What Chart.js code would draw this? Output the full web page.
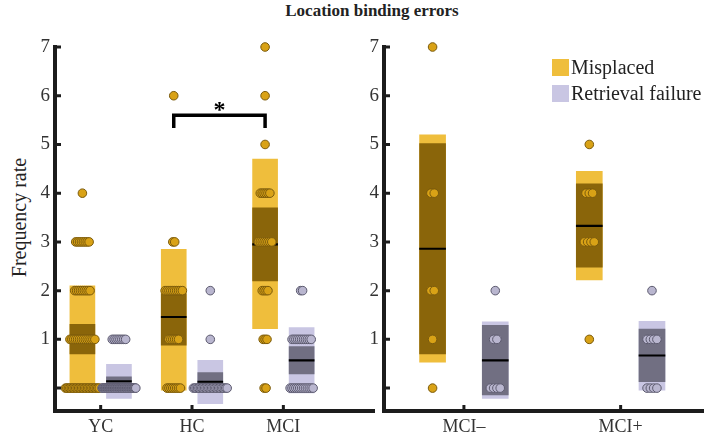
<!DOCTYPE html>
<html>
<head>
<meta charset="utf-8">
<script src="https://cdn.jsdelivr.net/npm/chart.js@4"></script>
<style>
  body { margin: 0; background: #fff; }
  #wrap { position: relative; width: 709px; height: 435px; font-family: 'Liberation Serif', 'Times New Roman', serif; color: #222; }
  #title { position: absolute; left: 0; width: 744px; top: 1px; text-align: center; font-weight: bold; font-size: 17px; }
  #ylabel { position: absolute; left: -61px; top: 206px; width: 160px; text-align: center; font-size: 20px; transform: rotate(-90deg); }
  canvas { position: absolute; top: 0; }
  #left { left: 0; }
  #right { left: 355px; }
  .legend { position: absolute; left: 552px; font-size: 20px; line-height: 17px; white-space: nowrap; }
  .legend span { display: inline-block; width: 17px; height: 17px; vertical-align: top; margin-right: 2px; }
</style>
</head>
<body>
<div id="wrap">
  <div id="title">Location binding errors</div>
  <div id="ylabel">Frequency rate</div>
  <canvas id="left" width="380" height="435"></canvas>
  <canvas id="right" width="354" height="435"></canvas>
  <div class="legend" style="top:59px"><span style="background:#efbe3c"></span>Misplaced</div>
  <div class="legend" style="top:85px"><span style="background:#c9c6e3"></span>Retrieval failure</div>
</div>
<script>
// --- Data ---
const leftCategories = ['YC', 'HC', 'MCI'];
const rightCategories = ['MCI\u2013', 'MCI+'];
const yTickValues = [0, 1, 2, 3, 4, 5, 6, 7];
const yTickLabels = ['', '1', '2', '3', '4', '5', '6', '7'];

// outer band, inner band, mean (per group)
const misplacedOuterL = [[-0.04, 2.1], [-0.04, 2.85], [1.22, 4.7]];
const misplacedInnerL = [[0.7, 1.31], [0.88, 1.94], [2.2, 3.7]];
const misplacedMeanL = [1.0, 1.46, 2.95];
const retrievalOuterL = [[-0.21, 0.49], [-0.32, 0.57], [-0.1, 1.24]];
const retrievalInnerL = [[0.05, 0.23], [-0.06, 0.32], [0.29, 0.85]];
const retrievalMeanL = [0.14, 0.13, 0.57];

const misplacedOuterR = [[0.53, 5.2], [2.22, 4.45]];
const misplacedInnerR = [[0.7, 5.02], [2.48, 4.19]];
const misplacedMeanR = [2.86, 3.33];
const retrievalOuterR = [[-0.21, 1.36], [-0.04, 1.37]];
const retrievalInnerR = [[-0.14, 1.29], [0.13, 1.21]];
const retrievalMeanR = [0.57, 0.67];

// number of participants at each score 0..7
const misplacedCountsL = [[24, 14, 9, 8, 1, 0, 0, 0], [8, 6, 10, 2, 0, 0, 1, 0], [2, 3, 4, 8, 6, 1, 1, 1]];
const retrievalCountsL = [[49, 8, 0, 0, 0, 0, 0, 0], [25, 1, 1, 0, 0, 0, 0, 0], [13, 11, 2, 0, 0, 0, 0, 0]];
const misplacedCountsR = [[1, 1, 2, 0, 2, 0, 0, 1], [0, 1, 0, 4, 3, 1, 0, 0]];
const retrievalCountsR = [[4, 2, 1, 0, 0, 0, 0, 0], [4, 4, 1, 0, 0, 0, 0, 0]];

// significance bracket HC vs MCI (misplaced)
const bracketX = [1.8, 2.8];
const bracketY = [5.34, 5.6];

// --- Styles ---
const font = "'Liberation Serif', 'Times New Roman', serif";
const axisColor = '#1c1c1c';
const gold = { outer: '#efbe3c', inner: '#8a650a', dot: '#d9a216', dotBorder: '#7a5a0c' };
const lav = { outer: '#c9c6e3', inner: '#716f82', dot: '#b9b6cf', dotBorder: '#5c5a6e' };
const OFFSET = 0.2;
const STEP = 0.021;
const CAP = 0.37;

function bars(values, shift) {
    return values.map((v, i) => ({ x: i + 1 + shift, y: v }));
}
function meanBars(values, shift) {
    return values.map((m, i) => ({ x: i + 1 + shift, y: [m - 0.015, m + 0.015] }));
}
function dots(counts, shift) {
    const pts = [];
    counts.forEach((row, g) => {
        const center = g + 1 + shift;
        row.forEach((n, v) => {
            if (!n) return;
            const spread = Math.min((n - 1) * STEP, CAP);
            for (let i = 0; i < n; i++) {
                const x = n > 1 ? center - spread / 2 + i * spread / (n - 1) : center;
                pts.push({ x: x, y: v });
            }
        });
    });
    return pts;
}

function makeChart(id, cfg) {
    const barSet = (data, color, order) => ({
        type: 'bar', data: data, backgroundColor: color, borderWidth: 0,
        barThickness: cfg.barWidth, grouped: false, order: order
    });
    const dotSet = (data, c, order) => ({
        type: 'scatter', data: data, backgroundColor: c.dot, borderColor: c.dotBorder,
        borderWidth: 1, pointRadius: 4.3, clip: false, order: order
    });
    const datasets = [
        dotSet(dots(cfg.retCounts, OFFSET), lav, 0),
        dotSet(dots(cfg.misCounts, -OFFSET), gold, 1),
        barSet(meanBars(cfg.retMean, OFFSET), '#000', 2),
        barSet(meanBars(cfg.misMean, -OFFSET), '#000', 2),
        barSet(bars(cfg.retInner, OFFSET), lav.inner, 3),
        barSet(bars(cfg.misInner, -OFFSET), gold.inner, 3),
        barSet(bars(cfg.retOuter, OFFSET), lav.outer, 4),
        barSet(bars(cfg.misOuter, -OFFSET), gold.outer, 4)
    ];
    if (cfg.bracket) {
        datasets.push({
            type: 'line',
            data: [
                { x: bracketX[0], y: bracketY[0] }, { x: bracketX[0], y: bracketY[1] },
                { x: bracketX[1], y: bracketY[1] }, { x: bracketX[1], y: bracketY[0] }
            ],
            borderColor: '#000', borderWidth: 3.5, pointRadius: 0, fill: false, order: 0
        });
    }

    // inward tick marks and the significance star
    const innerTicks = {
        id: 'innerTicks',
        afterDraw(chart) {
            const { ctx, chartArea } = chart;
            const x = chart.scales.x, y = chart.scales.y;
            ctx.save();
            ctx.strokeStyle = axisColor;
            ctx.lineWidth = 3;
            ctx.beginPath();
            yTickValues.forEach(v => {
                const py = y.getPixelForValue(v);
                ctx.moveTo(chartArea.left, py);
                ctx.lineTo(chartArea.left + 6, py);
            });
            cfg.categories.forEach((c, i) => {
                const px = x.getPixelForValue(i + 1);
                ctx.moveTo(px, chartArea.bottom);
                ctx.lineTo(px, chartArea.bottom - 6);
            });
            ctx.stroke();
            if (cfg.bracket) {
                ctx.fillStyle = '#000';
                ctx.font = 'bold 24px ' + font;
                ctx.textAlign = 'center';
                ctx.textBaseline = 'middle';
                ctx.fillText('*', x.getPixelForValue((bracketX[0] + bracketX[1]) / 2), y.getPixelForValue(bracketY[1]) - 4);
            }
            ctx.restore();
        }
    };

    return new Chart(document.getElementById(id), {
        type: 'bar',
        data: { datasets: datasets },
        plugins: [innerTicks],
        options: {
            responsive: false,
            animation: false,
            layout: { padding: cfg.padding },
            plugins: { legend: { display: false }, tooltip: { enabled: false } },
            scales: {
                x: {
                    type: 'linear', min: cfg.xMin, max: cfg.xMax, offset: false,
                    grid: { display: false, drawTicks: false },
                    border: { display: true, color: axisColor, width: 4 },
                    afterBuildTicks: s => { s.ticks = cfg.categories.map((c, i) => ({ value: i + 1 })); },
                    afterFit: s => { s.height = 24; },
                    ticks: {
                        autoSkip: false, maxRotation: 0, padding: 5, color: '#333',
                        font: { family: font, size: 18 },
                        callback: (v) => cfg.categories[Math.round(v) - 1] || ''
                    }
                },
                y: {
                    min: -0.47, max: 7,
                    grid: { display: false, drawTicks: false },
                    border: { display: true, color: axisColor, width: 4 },
                    afterBuildTicks: s => { s.ticks = yTickValues.map(v => ({ value: v })); },
                    afterFit: s => { s.width = cfg.yWidth; },
                    ticks: {
                        padding: 5, color: '#333',
                        font: { family: font, size: 19 },
                        callback: (v) => yTickLabels[yTickValues.indexOf(v)]
                    }
                }
            }
        }
    });
}

makeChart('left', {
    categories: leftCategories, xMin: 0.5, xMax: 4.0, barWidth: 25, yWidth: 55,
    padding: { top: 47, right: 3, left: 0, bottom: 0 }, bracket: true,
    misOuter: misplacedOuterL, misInner: misplacedInnerL, misMean: misplacedMeanL,
    retOuter: retrievalOuterL, retInner: retrievalInnerL, retMean: retrievalMeanL,
    misCounts: misplacedCountsL, retCounts: retrievalCountsL
});

makeChart('right', {
    categories: rightCategories, xMin: 0.49, xMax: 2.53, barWidth: 26, yWidth: 29,
    padding: { top: 47, right: 0, left: 0, bottom: 0 }, bracket: false,
    misOuter: misplacedOuterR, misInner: misplacedInnerR, misMean: misplacedMeanR,
    retOuter: retrievalOuterR, retInner: retrievalInnerR, retMean: retrievalMeanR,
    misCounts: misplacedCountsR, retCounts: retrievalCountsR
});
</script>
</body>
</html>
